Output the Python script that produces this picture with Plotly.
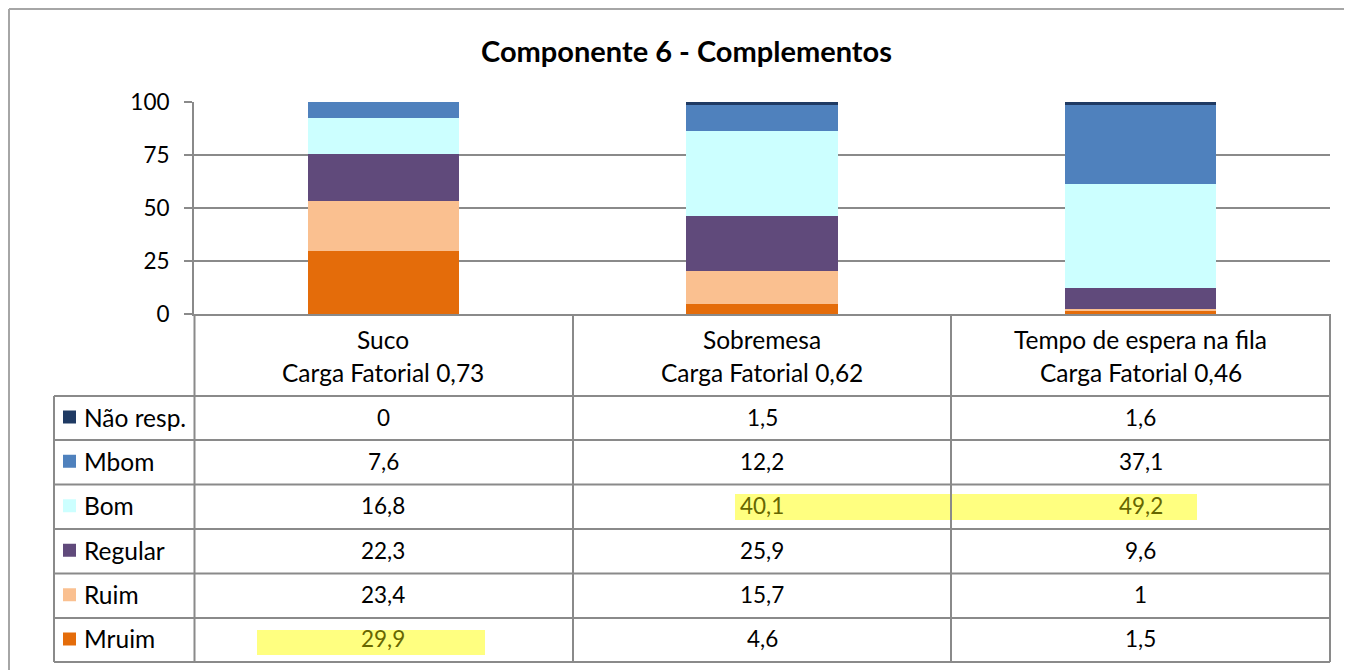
import plotly.graph_objects as go

# ---------------- data ----------------
categories = ["Suco", "Sobremesa", "Tempo de espera na fila"]
loadings = ["Carga Fatorial 0,73", "Carga Fatorial 0,62", "Carga Fatorial 0,46"]

series_names = ["Não resp.", "Mbom", "Bom", "Regular", "Ruim", "Mruim"]  # table order (top to bottom)
nao_resp = [0, 1.5, 1.6]
mbom = [7.6, 12.2, 37.1]
bom = [16.8, 40.1, 49.2]
regular = [22.3, 25.9, 9.6]
ruim = [23.4, 15.7, 1]
mruim = [29.9, 4.6, 1.5]
series_values = [nao_resp, mbom, bom, regular, ruim, mruim]

colors = ["#1F3A63", "#4F81BD", "#CCFFFF", "#604A7B", "#FAC090", "#E46C0A"]
highlighted = [("Mruim", "Suco"), ("Bom", "Sobremesa"), ("Bom", "Tempo de espera na fila")]

title = "Componente 6 - Complementos"
yticks = [0, 25, 50, 75, 100]

FONT = "Lato"
W, H = 1352, 670
OFF = 8  # page body margin offset
PL, PR, PT, PB = 194, 1330, 102, 314  # plot area in page pixels


def fx(px):
    return (px - PL) / (PR - PL)


def fy(py):
    return (PB - py) / (PB - PT)


def fmt(v):
    return f"{v:g}".replace(".", ",")


fig = go.Figure()

# stacked bars: bottom series first
for name, vals, col in reversed(list(zip(series_names, series_values, colors))):
    fig.add_trace(go.Bar(x=categories, y=vals, name=name, marker=dict(color=col, line=dict(width=0)),
                         showlegend=False, hoverinfo="x+y+name"))

GRID = "#8a8a8a"
shapes = []
annotations = []

# outer chart border (top and left visible)
shapes.append(dict(type="line", xref="paper", yref="paper", x0=fx(9), x1=fx(1370), y0=fy(9), y1=fy(9),
                   line=dict(color="#a6a6a6", width=2)))
shapes.append(dict(type="line", xref="paper", yref="paper", x0=fx(9), x1=fx(9), y0=fy(9), y1=fy(690),
                   line=dict(color="#a6a6a6", width=2)))

# table rows
row_edges = [396, 440, 484.5, 529, 573.5, 618, 662]
for yy in row_edges:
    shapes.append(dict(type="line", xref="paper", yref="paper", x0=fx(54), x1=fx(1330), y0=fy(yy), y1=fy(yy),
                       line=dict(color=GRID, width=2)))
for xx in [194.5, 573, 951, 1330]:
    shapes.append(dict(type="line", xref="paper", yref="paper", x0=fx(xx), x1=fx(xx), y0=fy(314), y1=fy(662),
                       line=dict(color=GRID, width=2)))
shapes.append(dict(type="line", xref="paper", yref="paper", x0=fx(54), x1=fx(54), y0=fy(396), y1=fy(662),
                   line=dict(color=GRID, width=2)))

# highlight rectangles (yellow marker)
HL = "#FFFF80"
shapes.append(dict(type="rect", xref="paper", yref="paper", x0=fx(257), x1=fx(485), y0=fy(655), y1=fy(630),
                   fillcolor=HL, line=dict(width=0), layer="below"))
shapes.append(dict(type="rect", xref="paper", yref="paper", x0=fx(735), x1=fx(1197), y0=fy(520), y1=fy(494),
                   fillcolor=HL, line=dict(width=0), layer="below"))

TXT = 24.5
NUM = 22.5
# category header labels
for cat, load in zip(categories, loadings):
    annotations.append(dict(x=cat, xref="x", y=fy(339), yref="paper", text=cat, showarrow=False,
                            font=dict(family=FONT, size=TXT, color="#000"), xanchor="center", yanchor="middle"))
    annotations.append(dict(x=cat, xref="x", y=fy(372), yref="paper", text=load, showarrow=False,
                            font=dict(family=FONT, size=TXT, color="#000"), xanchor="center", yanchor="middle"))

# table body: legend keys, labels, values
for i, (name, vals, col) in enumerate(zip(series_names, series_values, colors)):
    yc = (row_edges[i] + row_edges[i + 1]) / 2
    shapes.append(dict(type="rect", xref="paper", yref="paper", x0=fx(63), x1=fx(76), y0=fy(yc + 5.5), y1=fy(yc - 7.5),
                       fillcolor=col, line=dict(width=0)))
    annotations.append(dict(x=fx(82), xref="paper", y=fy(yc - 1), yref="paper", text=name, showarrow=False,
                            font=dict(family=FONT, size=TXT, color="#000"), xanchor="left", yanchor="middle"))
    for cat, v in zip(categories, vals):
        hl = (name, cat) in highlighted
        annotations.append(dict(x=cat, xref="x", y=fy(yc - 1), yref="paper", text=fmt(v), showarrow=False,
                                font=dict(family=FONT, size=NUM, color="#666600" if hl else "#000"),
                                xanchor="center", yanchor="middle"))

# title
annotations.append(dict(x=fx(686), xref="paper", y=fy(50), yref="paper", text=f"<b>{title}</b>", showarrow=False,
                        font=dict(family=FONT, size=29, color="#000"), xanchor="center", yanchor="middle"))

fig.update_layout(
    width=W, height=H,
    margin=dict(l=PL - OFF, r=W - (PR - OFF), t=PT - OFF, b=H - (PB - OFF), pad=0),
    paper_bgcolor="white", plot_bgcolor="white",
    barmode="stack", bargap=0.6,
    shapes=shapes, annotations=annotations,
    showlegend=False,
    font=dict(family=FONT, size=NUM, color="#000"),
)
fig.update_xaxes(type="category", range=[-0.5, 2.5], showticklabels=False, ticks="",
                 showline=True, linecolor=GRID, linewidth=2, showgrid=False, zeroline=False)
fig.update_yaxes(range=[0, 100], tickvals=yticks, ticks="outside", ticklen=8, tickcolor=GRID, tickwidth=2,
                 showline=True, linecolor=GRID, linewidth=2, showgrid=True, gridcolor=GRID, gridwidth=2,
                 zeroline=False, tickfont=dict(family=FONT, size=NUM, color="#000"), ticklabelstandoff=10)

fig.write_html("out.html")
